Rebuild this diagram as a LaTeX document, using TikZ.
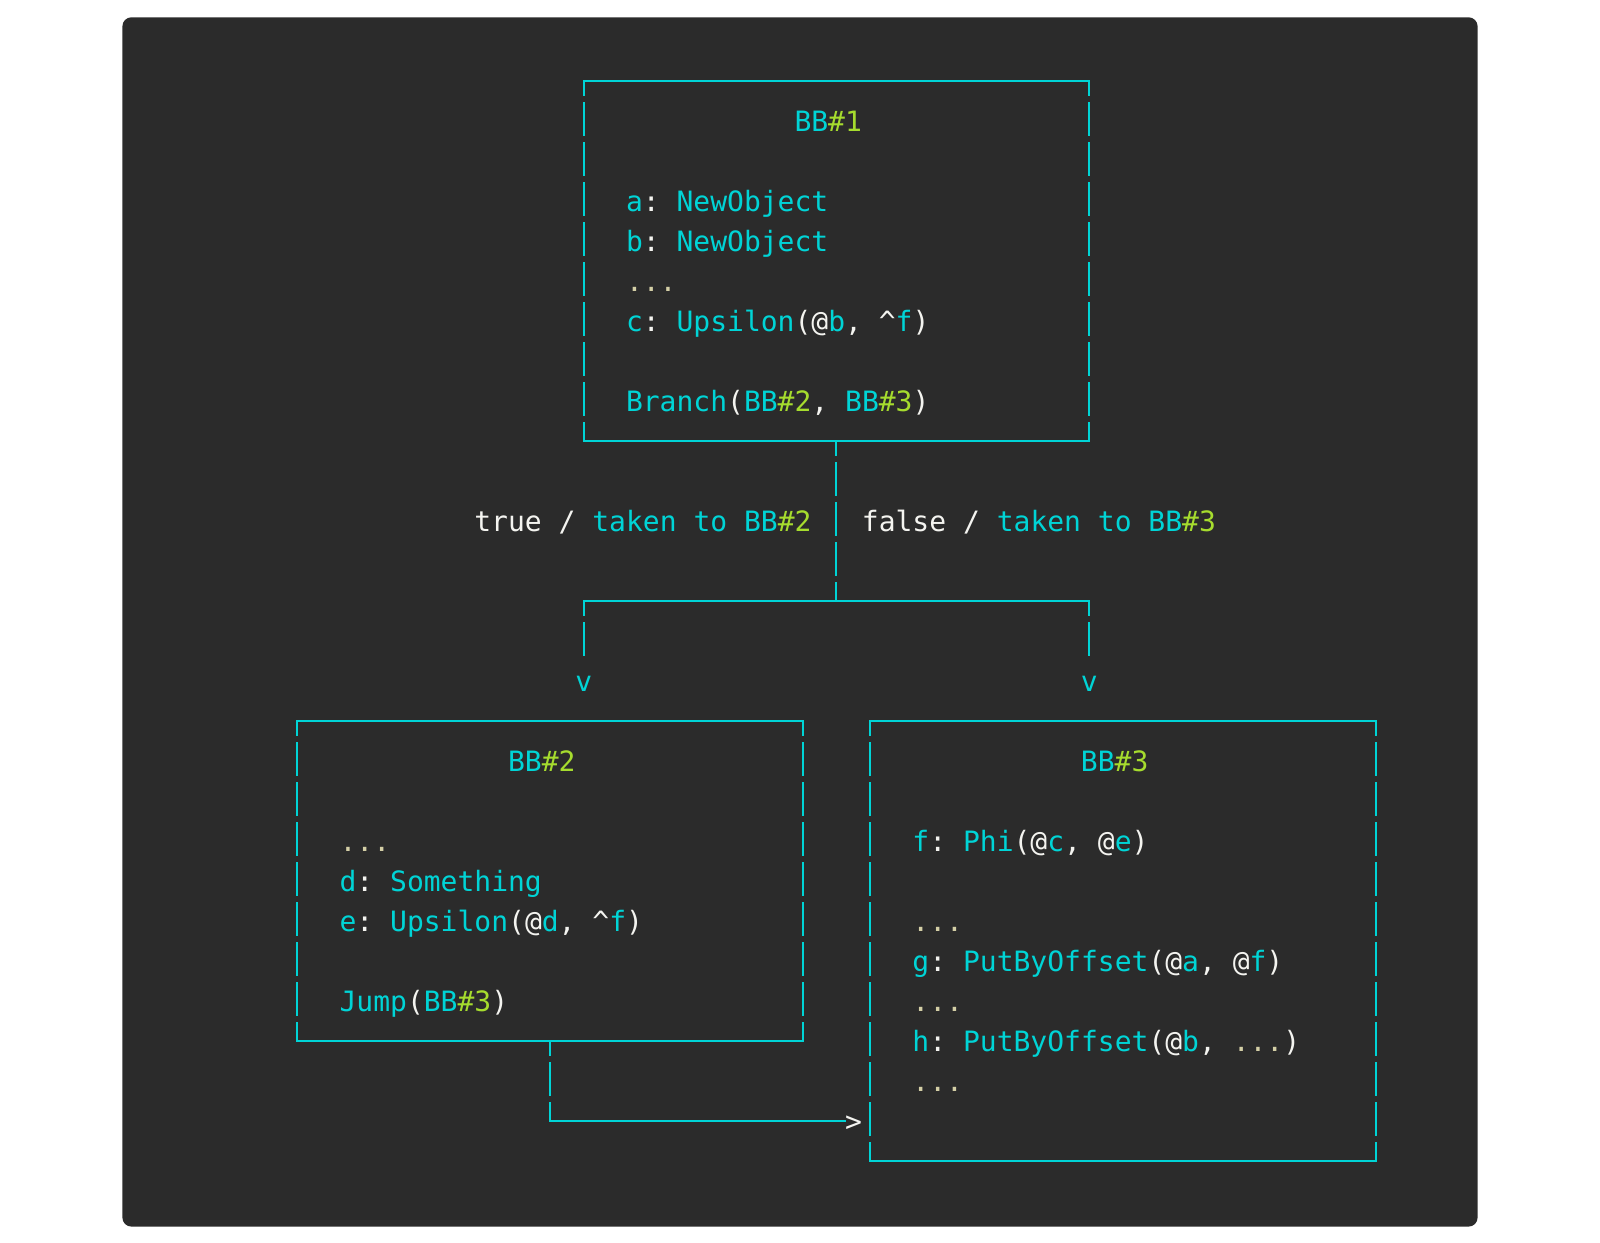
\documentclass[tikz,border=0pt]{standalone}
\usepackage{fontspec}
\usepackage{xcolor}
\usepackage{tikz}
\newfontfamily\codefont{DejaVu Sans Mono}
\definecolor{bgc}{HTML}{2B2B2B}
\definecolor{ircyan}{HTML}{00D4D6}
\definecolor{irgreen}{HTML}{A6DC2E}
\definecolor{irwhite}{HTML}{F4F4F0}
\definecolor{irdots}{HTML}{D4CFA6}
\newcommand{\cyn}[1]{\textcolor{ircyan}{#1}}
\newcommand{\grn}[1]{\textcolor{irgreen}{#1}}
\newcommand{\dts}[1]{\textcolor{irdots}{#1}}
\frenchspacing

\begin{document}
\begin{tikzpicture}[x=16.85pt,y=-40pt,
  code/.style={font=\codefont\fontsize{28pt}{40pt}\selectfont, text=irwhite, anchor=base west, inner sep=0pt},
  blk/.style={minimum width=505.5pt, inner sep=0pt, outer sep=0pt},
  wire/.style={draw=ircyan, line width=2pt},
  hline/.style={wire, line cap=rect},
  bar/.style={wire, dash pattern=on 33.3pt off 6.7pt, dash phase=18.3pt}]
\useasboundingbox (-583.7pt,80.6pt) rectangle (1016.3pt,-1161.4pt);
\fill[bgc, rounded corners=9pt] (-461.3pt,63.3pt) rectangle (893.9pt,-1146pt);

\node[blk, minimum height=360pt] (bb1) at (15,4.5) {};
\node[blk, minimum height=320pt] (bb2) at (-2,20) {};
\node[blk, minimum height=440pt] (bb3) at (32,21.5) {};
\foreach \b in {bb1,bb2,bb3}{
  \draw[hline] (\b.north west) -- (\b.north east);
  \draw[hline] (\b.south west) -- (\b.south east);
  \draw[bar] (\b.north west) -- (\b.south west);
  \draw[bar] (\b.north east) -- (\b.south east);
}

\node[code] (t1) at (12.5,1.275) {\cyn{BB}\grn{\#1}};
\node[code] (a1) at (2.5,3.275) {\cyn{a}: \cyn{NewObject}};
\node[code] (a2) at (2.5,4.275) {\cyn{b}: \cyn{NewObject}};
\node[code] (a3) at (2.5,5.275) {\dts{...}};
\node[code] (a4) at (2.5,6.275) {\cyn{c}: \cyn{Upsilon}(@\cyn{b}, \textasciicircum\cyn{f})};
\node[code] (a5) at (2.5,8.275) {\cyn{Branch}(\cyn{BB}\grn{\#2}, \cyn{BB}\grn{\#3})};

\node[code] (lt) at (-6.5,11.275) {true / \cyn{taken to BB}\grn{\#2}};
\node[code] (lf) at (16.5,11.275) {false / \cyn{taken to BB}\grn{\#3}};
\node[code] (v2) at (-0.5,15.275) {\cyn{v}};
\node[code] (v3) at (29.5,15.275) {\cyn{v}};

\node[code] (t2) at (-4.5,17.275) {\cyn{BB}\grn{\#2}};
\node[code] (b1) at (-14.5,19.275) {\dts{...}};
\node[code] (b2) at (-14.5,20.275) {\cyn{d}: \cyn{Something}};
\node[code] (b3) at (-14.5,21.275) {\cyn{e}: \cyn{Upsilon}(@\cyn{d}, \textasciicircum\cyn{f})};
\node[code] (b4) at (-14.5,23.275) {\cyn{Jump}(\cyn{BB}\grn{\#3})};

\node[code] (t3) at (29.5,17.275) {\cyn{BB}\grn{\#3}};
\node[code] (c1) at (19.5,19.275) {\cyn{f}: \cyn{Phi}(@\cyn{c}, @\cyn{e})};
\node[code] (c2) at (19.5,21.275) {\dts{...}};
\node[code] (c3) at (19.5,22.275) {\cyn{g}: \cyn{PutByOffset}(@\cyn{a}, @\cyn{f})};
\node[code] (c4) at (19.5,23.275) {\dts{...}};
\node[code] (c5) at (19.5,24.275) {\cyn{h}: \cyn{PutByOffset}(@\cyn{b}, \dts{...})};
\node[code] (c6) at (19.5,25.275) {\dts{...}};
\node[code] (jt) at (15.5,26.275) {>};

\coordinate (fork) at (15,13);
\coordinate (fl) at (0,13);
\coordinate (fr) at (30,13);
\coordinate (el) at (0,14.375);
\coordinate (er) at (30,14.375);
\coordinate (jb) at (-2,26);
\draw[bar] (bb1.south) -- (fork);
\draw[hline] (fl) -- (fr);
\draw[bar] (fl) -- (el);
\draw[bar] (fr) -- (er);
\draw[bar] (bb2.south) -- (jb);
\draw[hline] (jb) -- (jb -| jt.west);
\end{tikzpicture}
\end{document}
